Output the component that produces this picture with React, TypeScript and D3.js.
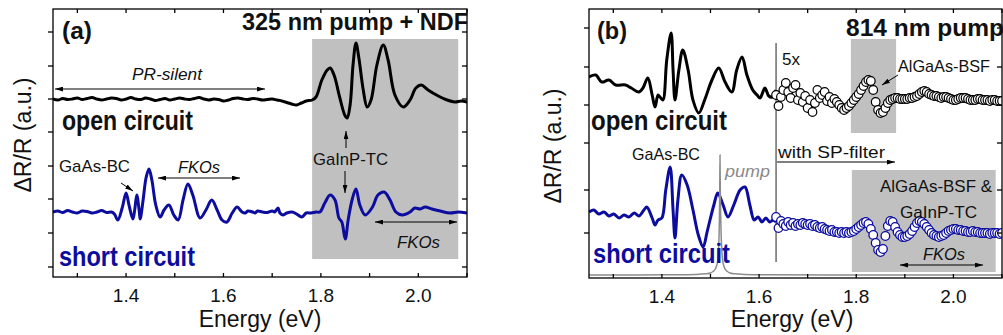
import React from 'react';
import * as d3 from 'd3';

type P = [number, number];

// ---------- axes ----------
const energyTicks = [1.3, 1.4, 1.5, 1.6, 1.7, 1.8, 1.9, 2.0, 2.1];
const energyLabels = [1.4, 1.6, 1.8, 2.0];
const yTicksA = [10, 44, 78, 111, 145, 178, 211, 245];
const yTicksB = [45, 88, 135, 173, 211, 250];

// ---------- panel (a): 325 nm pump + NDF ----------
const openA: P[] = [
  [1.25, 178], [1.26, 177], [1.27, 178.5], [1.28, 177.5], [1.29, 178], [1.30, 179], [1.31, 177.5],
  [1.32, 178.5], [1.33, 179.5], [1.34, 178], [1.35, 177], [1.36, 178], [1.37, 179], [1.38, 178.5],
  [1.39, 177], [1.40, 178], [1.41, 179.5], [1.42, 178], [1.43, 177.5], [1.44, 179], [1.45, 178],
  [1.46, 176.5], [1.47, 177.5], [1.48, 178.5], [1.49, 177], [1.50, 178], [1.51, 179], [1.52, 178],
  [1.53, 177.5], [1.54, 178.5], [1.55, 179.5], [1.56, 178], [1.57, 177], [1.58, 178], [1.59, 177.5],
  [1.60, 176], [1.61, 177], [1.62, 178.5], [1.63, 179], [1.64, 178], [1.65, 177.5], [1.66, 178.5],
  [1.67, 178], [1.68, 177], [1.69, 177.5], [1.70, 178], [1.71, 177], [1.72, 176], [1.73, 174.5],
  [1.74, 173], [1.75, 172], [1.76, 174], [1.77, 176], [1.782, 177], [1.790, 180], [1.802, 197],
  [1.813, 207], [1.819, 209], [1.827, 202], [1.839, 179], [1.849, 162], [1.854, 159], [1.860, 172],
  [1.866, 212], [1.872, 234], [1.878, 219], [1.887, 187], [1.895, 170], [1.903, 177], [1.915, 212],
  [1.928, 232], [1.938, 217], [1.952, 182], [1.969, 170], [1.983, 177], [1.995, 189], [2.006, 192],
  [2.020, 187], [2.041, 181], [2.059, 177], [2.075, 175], [2.088, 176], [2.100, 175],
];

const shortA: P[] = [
  [1.25, 65], [1.26, 66], [1.27, 64.5], [1.28, 66.5], [1.29, 65], [1.30, 64], [1.31, 66], [1.32, 65.5],
  [1.33, 64], [1.34, 65], [1.35, 66.5], [1.36, 64.5], [1.37, 65], [1.376, 63], [1.383, 57], [1.392, 69],
  [1.400, 84], [1.406, 72], [1.414, 58], [1.418, 68], [1.422, 82], [1.427, 66], [1.429, 58], [1.435, 77],
  [1.441, 99], [1.447, 108], [1.453, 97], [1.461, 72], [1.470, 60], [1.478, 67], [1.488, 72], [1.498, 62],
  [1.507, 57], [1.517, 77], [1.527, 93], [1.537, 82], [1.552, 59], [1.564, 67], [1.576, 77], [1.587, 67],
  [1.597, 57], [1.607, 55], [1.618, 64], [1.628, 70], [1.638, 65], [1.645, 64], [1.65, 66], [1.66, 65],
  [1.665, 64], [1.67, 66], [1.68, 65], [1.69, 64.5], [1.70, 66], [1.705, 65], [1.712, 69], [1.716, 64],
  [1.722, 62], [1.73, 64], [1.741, 65], [1.75, 63], [1.761, 60], [1.77, 64], [1.78, 64], [1.79, 65],
  [1.798, 65], [1.808, 74], [1.819, 82], [1.829, 77], [1.837, 59], [1.843, 55], [1.850, 38], [1.856, 57],
  [1.864, 77], [1.872, 88], [1.880, 72], [1.891, 62], [1.906, 70], [1.917, 82], [1.930, 85], [1.942, 77],
  [1.954, 65], [1.967, 62], [1.983, 65], [1.993, 69], [2.004, 68], [2.014, 70], [2.028, 68], [2.045, 66],
  [2.065, 64], [2.082, 65], [2.100, 64],
];

// ---------- panel (b): 814 nm pump ----------
const openB: P[] = [
  [1.25, 201], [1.264, 203], [1.276, 196], [1.291, 198], [1.305, 193], [1.325, 193], [1.337, 190],
  [1.352, 186], [1.361, 190], [1.371, 200], [1.380, 183], [1.386, 171], [1.392, 183], [1.396, 181],
  [1.402, 178], [1.410, 218], [1.419, 245], [1.423, 208], [1.427, 178], [1.435, 208], [1.443, 228],
  [1.454, 208], [1.464, 178], [1.476, 165], [1.488, 178], [1.503, 198], [1.517, 210], [1.530, 196],
  [1.544, 186], [1.554, 208], [1.565, 221], [1.575, 203], [1.587, 188], [1.596, 183], [1.602, 180],
  [1.612, 190], [1.620, 182], [1.627, 181], [1.635, 188],
];

const shortB: P[] = [
  [1.25, 66], [1.260, 68], [1.270, 64], [1.281, 66], [1.291, 62], [1.301, 64], [1.312, 60], [1.322, 63],
  [1.332, 61], [1.343, 65], [1.353, 62], [1.363, 68], [1.369, 71], [1.380, 60], [1.386, 53], [1.392, 58],
  [1.400, 60], [1.408, 88], [1.417, 111], [1.423, 68], [1.427, 40], [1.433, 78], [1.441, 103], [1.452, 93],
  [1.464, 68], [1.475, 43], [1.485, 31], [1.493, 46], [1.499, 58], [1.507, 73], [1.515, 85], [1.526, 73],
  [1.536, 61], [1.548, 73], [1.561, 88], [1.571, 91], [1.581, 73], [1.590, 58], [1.598, 61], [1.606, 56],
  [1.614, 60], [1.622, 56], [1.629, 58], [1.635, 56],
];

// 5x magnified, measured with short-pass filter
const openB5x: P[] = [
  [1.635, 183], [1.640, 172], [1.645, 181], [1.650, 188], [1.655, 195], [1.660, 186], [1.665, 180],
  [1.670, 190], [1.675, 193], [1.680, 178], [1.685, 185], [1.690, 176], [1.695, 182], [1.700, 170],
  [1.705, 178], [1.710, 166], [1.715, 175], [1.720, 188], [1.725, 180], [1.730, 183], [1.735, 186],
  [1.740, 177], [1.745, 181], [1.750, 175], [1.755, 179], [1.760, 176], [1.765, 173], [1.770, 170],
  [1.775, 168], [1.780, 170], [1.785, 172], [1.790, 175], [1.795, 178], [1.800, 181], [1.805, 184],
  [1.810, 188], [1.815, 192], [1.820, 196], [1.825, 198], [1.830, 197], [1.835, 188], [1.840, 176],
  [1.845, 168], [1.850, 165], [1.855, 166], [1.860, 170], [1.865, 175], [1.870, 178], [1.875, 179],
  [1.880, 180], [1.885, 180], [1.890, 179], [1.895, 179], [1.900, 179], [1.905, 179], [1.910, 180],
  [1.915, 180], [1.920, 181], [1.925, 182], [1.930, 184], [1.935, 186], [1.940, 187], [1.945, 186],
  [1.950, 184], [1.955, 183], [1.960, 182], [1.965, 182], [1.970, 181], [1.975, 180], [1.980, 181],
  [1.985, 181], [1.990, 180], [1.995, 179], [2.000, 178], [2.005, 178], [2.010, 179], [2.015, 180],
  [2.020, 180], [2.025, 180], [2.030, 179], [2.035, 178], [2.040, 178], [2.045, 178], [2.050, 179],
  [2.055, 179], [2.060, 178], [2.065, 178], [2.070, 178], [2.075, 177], [2.080, 178], [2.085, 178],
  [2.090, 177], [2.095, 177], [2.100, 177],
];

const shortB5x: P[] = [
  [1.635, 61], [1.640, 50], [1.645, 57], [1.650, 54], [1.655, 52], [1.660, 56], [1.665, 53], [1.670, 55],
  [1.675, 52], [1.680, 54], [1.685, 53], [1.690, 55], [1.695, 54], [1.700, 53], [1.705, 54], [1.710, 52],
  [1.715, 53], [1.720, 51], [1.725, 50], [1.730, 51], [1.735, 49], [1.740, 48], [1.745, 47], [1.750, 48],
  [1.755, 46], [1.760, 46], [1.765, 45], [1.770, 46], [1.775, 45], [1.780, 46], [1.785, 45], [1.790, 46],
  [1.795, 47], [1.800, 49], [1.805, 51], [1.810, 53], [1.815, 55], [1.820, 56], [1.825, 54], [1.830, 49],
  [1.835, 43], [1.840, 35], [1.845, 28], [1.850, 26], [1.855, 29], [1.860, 42], [1.865, 52], [1.870, 57],
  [1.875, 56], [1.880, 51], [1.885, 46], [1.890, 43], [1.895, 41], [1.900, 41], [1.905, 42], [1.910, 44],
  [1.915, 47], [1.920, 51], [1.925, 55], [1.930, 57], [1.935, 56], [1.940, 54], [1.945, 51], [1.950, 48],
  [1.955, 45], [1.960, 43], [1.965, 42], [1.970, 41], [1.975, 42], [1.980, 43], [1.985, 45], [1.990, 47],
  [1.995, 48], [2.000, 49], [2.005, 49], [2.010, 48], [2.015, 48], [2.020, 47], [2.025, 47], [2.030, 46],
  [2.035, 46], [2.040, 47], [2.045, 46], [2.050, 46], [2.055, 45], [2.060, 45], [2.065, 45], [2.070, 45],
  [2.075, 44], [2.080, 45], [2.085, 45], [2.090, 45], [2.095, 44], [2.100, 45],
];

// pump laser line (814 nm)
const pumpB: P[] = [
  [1.25, 3], [1.35, 3], [1.42, 3.2], [1.47, 3.6], [1.49, 4.2], [1.50, 5], [1.505, 6.5], [1.51, 9],
  [1.5125, 12], [1.515, 18], [1.5165, 27], [1.5175, 40], [1.5185, 62], [1.519, 85], [1.5196, 123],
  [1.5202, 90], [1.521, 64], [1.522, 42], [1.5235, 26], [1.525, 18], [1.5275, 12], [1.53, 9],
  [1.535, 6.5], [1.54, 5], [1.55, 4.2], [1.57, 3.6], [1.62, 3.2], [1.75, 3], [2.1, 3],
];

const shadeA: [number, number, number, number][] = [[1.782, 2.082, 18, 238]];
const shadeB: [number, number, number, number][] = [
  [1.789, 1.882, 145, 239],
  [1.791, 2.087, 6, 108],
];
const filterEdgeB = 1.635;

// ---------- styling ----------
const NAVY = '#0c0c9e';
const FONT = '"Liberation Sans", Arial, sans-serif';
const W = 1003;
const H = 335;

type PanelCfg = { x0: number; x1: number; y0: number; y1: number; ymax: number; yTicks: number[]; id: string };
const cfgA: PanelCfg = { x0: 53, x1: 467, y0: 9, y1: 277, ymax: 268, yTicks: yTicksA, id: 'a' };
const cfgB: PanelCfg = { x0: 589, x1: 1002, y0: 9, y1: 278, ymax: 269, yTicks: yTicksB, id: 'b' };

function scales(c: PanelCfg) {
  const x = d3.scaleLinear().domain([1.25, 2.1]).range([c.x0, c.x1]);
  const y = d3.scaleLinear().domain([0, c.ymax]).range([c.y1, c.y0]);
  return { x, y };
}

function Axes({ c }: { c: PanelCfg }) {
  const { x, y } = scales(c);
  const tl = 4;
  return (
    <g stroke="#000" strokeWidth={1.3} fill="none">
      <rect x={c.x0} y={c.y0} width={c.x1 - c.x0} height={c.y1 - c.y0} />
      {energyTicks.map((t) => (
        <g key={'xt' + t}>
          <line x1={x(t)} x2={x(t)} y1={c.y1} y2={c.y1 - tl} />
          <line x1={x(t)} x2={x(t)} y1={c.y0} y2={c.y0 + tl} />
        </g>
      ))}
      {c.yTicks.map((t) => (
        <g key={'yt' + t}>
          <line x1={c.x0 - 5} x2={c.x0} y1={y(t)} y2={y(t)} />
          <line x1={c.x1 - 5} x2={c.x1} y1={y(t)} y2={y(t)} />
        </g>
      ))}
      {energyLabels.map((t) => (
        <text key={'xl' + t} x={x(t)} y={c.y1 + 25} textAnchor="middle" fontSize={19} fill="#111" stroke="none"
          fontFamily={FONT}>
          {t.toFixed(1)}
        </text>
      ))}
    </g>
  );
}

function Arrow({ x1, y1, x2, y2, both = false }: { x1: number; y1: number; x2: number; y2: number; both?: boolean }) {
  return (
    <line x1={x1} y1={y1} x2={x2} y2={y2} stroke="#000" strokeWidth={1}
      markerEnd="url(#ah)" markerStart={both ? 'url(#ah)' : undefined} />
  );
}

type TProps = { x: number; y: number; len?: number; size?: number; bold?: boolean; italic?: boolean; fill?: string; children: React.ReactNode };
function T({ x, y, len, size = 17, bold, italic, fill = '#111', children }: TProps) {
  return (
    <text x={x} y={y} fontSize={size} fontFamily={FONT} fontWeight={bold ? 'bold' : 'normal'}
      fontStyle={italic ? 'italic' : 'normal'} fill={fill}
      textLength={len} lengthAdjust={len ? 'spacingAndGlyphs' : undefined}>
      {children}
    </text>
  );
}

export default function App() {
  const A = scales(cfgA);
  const B = scales(cfgB);
  const lineA = d3.line<P>().x((d) => A.x(d[0])).y((d) => A.y(d[1])).curve(d3.curveCatmullRom.alpha(0.5));
  const lineB = d3.line<P>().x((d) => B.x(d[0])).y((d) => B.y(d[1])).curve(d3.curveCatmullRom.alpha(0.5));
  const pumpLine = d3.line<P>().x((d) => B.x(d[0])).y((d) => B.y(d[1])).curve(d3.curveMonotoneX);

  return (
    <svg width={W} height={H} style={{ position: 'absolute', left: 0, top: 0, background: '#fff' }}
      xmlns="http://www.w3.org/2000/svg">
      <defs>
        <marker id="ah" viewBox="0 0 10 6" refX="10" refY="3" markerWidth="8" markerHeight="5"
          orient="auto-start-reverse" markerUnits="userSpaceOnUse">
          <path d="M0,0 L10,3 L0,6 z" fill="#000" />
        </marker>
        <clipPath id="clipA"><rect x={cfgA.x0} y={cfgA.y0} width={cfgA.x1 - cfgA.x0} height={cfgA.y1 - cfgA.y0} /></clipPath>
        <clipPath id="clipB"><rect x={cfgB.x0} y={cfgB.y0} width={cfgB.x1 - cfgB.x0} height={cfgB.y1 - cfgB.y0} /></clipPath>
      </defs>

      {/* ===== panel (a) ===== */}
      <g clipPath="url(#clipA)">
        {shadeA.map((s, i) => (
          <rect key={i} x={A.x(s[0])} y={A.y(s[3])} width={A.x(s[1]) - A.x(s[0])} height={A.y(s[2]) - A.y(s[3])} fill="#c0c0c0" />
        ))}
        <path d={lineA(openA) || ''} fill="none" stroke="#000" strokeWidth={3} strokeLinejoin="round" />
        <path d={lineA(shortA) || ''} fill="none" stroke={NAVY} strokeWidth={3} strokeLinejoin="round" />
      </g>
      <Axes c={cfgA} />
      <T x={62} y={39} size={23} bold len={30}>(a)</T>
      <T x={242} y={30} size={24} bold len={226}>325 nm pump + NDF</T>
      <T x={132} y={80} size={16} italic len={70}>PR-silent</T>
      <Arrow x1={55} y1={89} x2={265} y2={89} both />
      <T x={62} y={130} size={28} bold len={131}>open circuit</T>
      <T x={59} y={172} size={17} len={71}>GaAs-BC</T>
      <Arrow x1={121} y1={183} x2={133} y2={191} />
      <T x={178} y={173} size={17} italic len={42}>FKOs</T>
      <Arrow x1={158} y1={178} x2={240} y2={178} both />
      <T x={313} y={165} size={17} len={75}>GaInP-TC</T>
      <Arrow x1={346} y1={148} x2={346} y2={131} />
      <Arrow x1={345} y1={171} x2={345} y2={193} />
      <T x={397} y={248} size={17} italic len={43}>FKOs</T>
      <Arrow x1={375} y1={222} x2={457} y2={222} both />
      <T x={59} y={266} size={28} bold len={136} fill={NAVY}>short circuit</T>
      <text transform="translate(31,135) rotate(-90)" textAnchor="middle" fontSize={23} fontFamily={FONT} fill="#111">ΔR/R (a.u.)</text>
      <text x={260} y={327} textAnchor="middle" fontSize={23} fontFamily={FONT} fill="#111">Energy (eV)</text>

      {/* ===== panel (b) ===== */}
      <g clipPath="url(#clipB)">
        {shadeB.map((s, i) => (
          <rect key={i} x={B.x(s[0])} y={B.y(s[3])} width={B.x(s[1]) - B.x(s[0])} height={B.y(s[2]) - B.y(s[3])} fill="#c0c0c0" />
        ))}
        <line x1={B.x(filterEdgeB)} x2={B.x(filterEdgeB)} y1={43} y2={262} stroke="#555" strokeWidth={1.3} />
        <path d={lineB(openB) || ''} fill="none" stroke="#000" strokeWidth={3} strokeLinejoin="round" />
        <path d={lineB(shortB) || ''} fill="none" stroke={NAVY} strokeWidth={3} strokeLinejoin="round" />
        <path d={pumpLine(pumpB) || ''} fill="none" stroke="#8c8c8c" strokeWidth={1.5} />
        {openB5x.map((d, i) => (
          <circle key={'o' + i} cx={B.x(d[0])} cy={B.y(d[1])} r={4.3} fill="#fff" stroke="#000" strokeWidth={1.2} />
        ))}
        {shortB5x.map((d, i) => (
          <circle key={'s' + i} cx={B.x(d[0])} cy={B.y(d[1])} r={4.3} fill="#fff" stroke={NAVY} strokeWidth={1.3} />
        ))}
      </g>
      <Axes c={cfgB} />
      <T x={597} y={39} size={23} bold len={30}>(b)</T>
      <T x={846} y={36} size={24} bold len={158}>814 nm pump</T>
      <T x={782} y={65} size={17} len={18}>5x</T>
      <T x={898} y={72} size={17} len={92}>AlGaAs-BSF</T>
      <Arrow x1={898} y1={75} x2={882} y2={85} />
      <T x={778} y={158} size={17} len={107}>with SP-filter</T>
      <Arrow x1={777} y1={162} x2={895} y2={162} />
      <T x={632} y={160} size={17} len={68}>GaAs-BC</T>
      <T x={725} y={177} size={17} italic len={45} fill="#8a8a8a">pump</T>
      <T x={591} y={130} size={28} bold len={136}>open circuit</T>
      <T x={593} y={263} size={28} bold len={137} fill={NAVY}>short circuit</T>
      <T x={880} y={192} size={17} len={112}>AlGaAs-BSF &amp;</T>
      <T x={900} y={218} size={17} len={77}>GaInP-TC</T>
      <T x={923} y={260} size={17} italic len={42}>FKOs</T>
      <Arrow x1={900} y1={265} x2={983} y2={265} both />
      <text transform="translate(561,146) rotate(-90)" textAnchor="middle" fontSize={23} fontFamily={FONT} fill="#111">ΔR/R (a.u.)</text>
      <text x={792} y={327} textAnchor="middle" fontSize={23} fontFamily={FONT} fill="#111">Energy (eV)</text>
    </svg>
  );
}
